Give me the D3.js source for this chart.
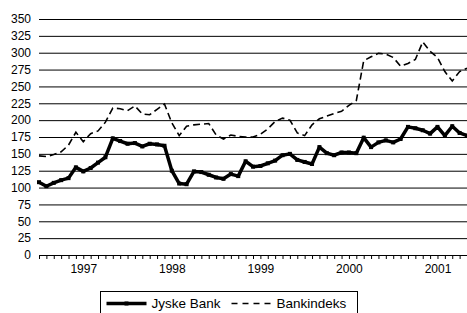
<!DOCTYPE html>
<meta charset="utf-8">
<head>
<style>
  body { margin: 0; background: #fff; }
  text { font-family: "Liberation Sans", Arial, sans-serif; fill: #000; }
</style>
</head>
<body>
<script src="https://d3js.org/d3.v7.min.js"></script>
<div id="my_dataviz"></div>

<script>
    // month index 0 = jan 1997, one point per month
    var jyske = [108, 102, 107, 111, 114, 130, 124, 129, 137, 145,
                 173, 169, 165, 166, 161, 165, 164, 162, 125, 106,
                 105, 124, 123, 119, 115, 113, 120, 117, 139, 131,
                 132, 136, 140, 148, 150, 141, 138, 135, 160, 151,
                 148, 152, 152, 151, 174, 160, 167, 170, 167, 172,
                 190, 188, 185, 180, 190, 177, 191, 181, 177];
    var bankindeks = [147, 146, 149, 153, 163, 182, 168, 180, 184, 197,
                      218, 217, 214, 221, 209, 208, 216, 224, 196, 177,
                      191, 193, 194, 195, 178, 172, 178, 176, 175, 175,
                      179, 187, 198, 203, 200, 181, 177, 193, 202, 206,
                      210, 213, 222, 229, 288, 294, 299, 298, 293, 280,
                      284, 290, 316, 302, 293, 272, 258, 272, 277];
    var years = ["1997", "1998", "1999", "2000", "2001"];
    var yTicks = [0, 25, 50, 75, 100, 125, 150, 175, 200, 225, 250, 275, 300, 325, 350];
    var seriesNames = ["Jyske Bank", "Bankindeks"];

    // set the dimensions and margins of the graph
    var margin = {top: 19, right: 0, bottom: 58, left: 39},
        width = 467 - margin.left - margin.right,
        height = 313 - margin.top - margin.bottom;

    var svg = d3.select("#my_dataviz")
      .append("svg")
        .attr("width", 467)
        .attr("height", 313)
      .append("g")
        .attr("transform", "translate(" + margin.left + "," + margin.top + ")");

    var x = d3.scaleLinear()
        .domain([0, jyske.length - 1])
        .range([0, width]);

    var y = d3.scaleLinear()
        .domain([0, 350])
        .range([height, 0]);

    // gridlines + y labels
    var yAxis = svg.append("g")
        .call(d3.axisLeft(y).tickValues(yTicks).tickSize(-width).tickPadding(8));
    yAxis.select(".domain").remove();
    yAxis.selectAll("line").attr("stroke", "#000").attr("stroke-width", 1);
    yAxis.selectAll("text").style("font-size", "12px").style("font-family", "'Liberation Sans', Arial, sans-serif");

    // x axis: a tick every month, year label mid-year
    var xAxis = svg.append("g")
        .attr("transform", "translate(0," + height + ")")
        .call(d3.axisBottom(x)
            .tickValues(d3.range(0, jyske.length))
            .tickSize(4)
            .tickSizeOuter(0)
            .tickPadding(5)
            .tickFormat(function(d) { return d % 12 == 6 ? years[(d - 6) / 12] : ""; }));
    xAxis.selectAll("line, path").attr("stroke", "#000");
    xAxis.selectAll("text").style("font-size", "12px").style("font-family", "'Liberation Sans', Arial, sans-serif");

    var line = d3.line()
        .x(function(d, i) { return x(i); })
        .y(function(d) { return y(d); });

    // Bankindeks, dashed
    svg.append("path")
        .datum(bankindeks)
        .attr("fill", "none")
        .attr("stroke", "#000")
        .attr("stroke-width", 1.6)
        .attr("stroke-dasharray", "7,4")
        .attr("d", line);

    // Jyske Bank, thick line with tiny markers
    svg.append("path")
        .datum(jyske)
        .attr("fill", "none")
        .attr("stroke", "#000")
        .attr("stroke-width", 3.5)
        .attr("stroke-linejoin", "round")
        .attr("d", line);

    svg.append("g")
        .selectAll("rect")
        .data(jyske)
        .enter()
        .append("rect")
          .attr("x", function(d, i) { return x(i) - 2; })
          .attr("y", function(d) { return y(d) - 2; })
          .attr("width", 4)
          .attr("height", 4)
          .attr("fill", "#000");

    // legend
    var legend = d3.select("svg").append("g")
        .attr("transform", "translate(100.5,291.5)");

    legend.append("rect")
        .attr("width", 257)
        .attr("height", 30)
        .attr("fill", "#fff")
        .attr("stroke", "#000");

    legend.append("line")
        .attr("x1", 6).attr("x2", 46)
        .attr("y1", 12).attr("y2", 12)
        .attr("stroke", "#000").attr("stroke-width", 3.5);
    legend.append("rect")
        .attr("x", 24).attr("y", 10).attr("width", 4).attr("height", 4)
        .attr("fill", "#000");

    legend.append("line")
        .attr("x1", 131).attr("x2", 172)
        .attr("y1", 12).attr("y2", 12)
        .attr("stroke", "#000").attr("stroke-width", 1.6)
        .attr("stroke-dasharray", "6,5");

    legend.selectAll("text")
        .data(seriesNames)
        .enter()
        .append("text")
        .text(function(d) { return d; })
        .attr("x", function(d, i) { return i == 0 ? 51 : 176; })
        .attr("y", 16.5)
        .attr("font-size", "13.5px");
</script>
</body>
